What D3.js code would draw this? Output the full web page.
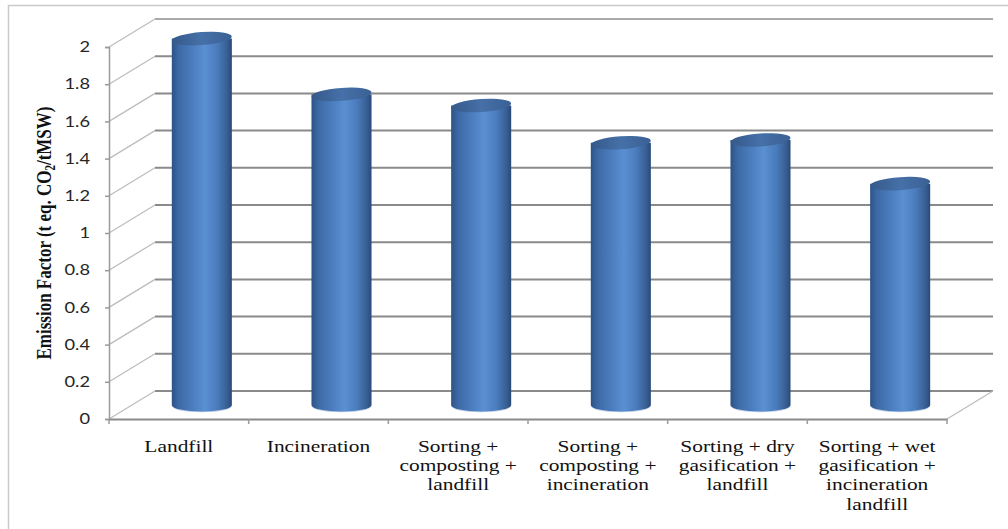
<!DOCTYPE html>
<html><head><meta charset="utf-8">
<script src="https://cdn.jsdelivr.net/npm/d3@7/dist/d3.min.js"></script>
<style>body{margin:0;background:#fff;overflow:hidden}</style>
</head><body>
<svg id="c" width="1008" height="529"></svg>
<script>
// ---- data ----
const categories = ["Landfill", "Incineration", "Sorting + composting + landfill",
  "Sorting + composting + incineration", "Sorting + dry gasification + landfill",
  "Sorting + wet gasification + incineration landfill"];
const categoryLines = [["Landfill"], ["Incineration"], ["Sorting +", "composting +", "landfill"],
  ["Sorting +", "composting +", "incineration"], ["Sorting + dry", "gasification +", "landfill"],
  ["Sorting + wet", "gasification +", "incineration", "landfill"]];
const values = [1.97, 1.67, 1.61, 1.41, 1.425, 1.19];
const yTicks = [0, 0.2, 0.4, 0.6, 0.8, 1, 1.2, 1.4, 1.6, 1.8, 2];
const yTickLabels = ["0", "0.2", "0.4", "0.6", "0.8", "1", "1.2", "1.4", "1.6", "1.8", "2"];
const yTitleMain = "Emission Factor (t eq. CO";
const yTitleSub = "2";
const yTitleEnd = "/tMSW)";

// ---- layout ----
const svg = d3.select("#c");
const X0 = 109, X1 = 947, DX = 46, DY = -28, SX = 1.26;
const x = d3.scaleBand().domain(categories).range([X0, X1]);
const y = d3.scaleLinear().domain([0, 2]).range([419, 47]);

// outer border
svg.append("rect").attr("x", 8.5).attr("y", 5.5).attr("width", 1100).attr("height", 600)
  .attr("fill", "none").attr("stroke", "#c9c9c9").attr("stroke-width", 1.5);

// back wall gridlines
const grid = svg.append("g");
grid.selectAll("line.bg").data(yTicks).join("line")
  .attr("x1", X0 + DX).attr("x2", X1 + DX)
  .attr("y1", d => y(d) + DY).attr("y2", d => y(d) + DY)
  .attr("stroke", (d, i) => i === yTicks.length - 1 ? "#a9a9a9" : "#8a8a8a").attr("stroke-width", 2);
// side wall diagonals
grid.selectAll("line.sd").data(yTicks).join("line")
  .attr("x1", X0).attr("x2", X0 + DX)
  .attr("y1", d => y(d)).attr("y2", d => y(d) + DY)
  .attr("stroke", "#bdbdbd").attr("stroke-width", 1.3);
// floor right diagonal
grid.append("line").attr("x1", X1).attr("y1", y(0)).attr("x2", X1 + DX).attr("y2", y(0) + DY)
  .attr("stroke", "#bdbdbd").attr("stroke-width", 1.3);

// y axis
const yAxis = svg.append("g").attr("transform", `translate(${X0},0)`)
  .call(d3.axisLeft(y).tickValues(yTicks).tickSize(4).tickFormat(""));
yAxis.select(".domain").attr("stroke", "#9a9a9a").attr("stroke-width", 1.5);
yAxis.selectAll(".tick line").attr("stroke", "#9a9a9a").attr("stroke-width", 1.5);

svg.append("g").selectAll("text").data(yTicks).join("text")
  .attr("transform", d => `translate(90,${y(d)}) scale(${SX},1)`)
  .attr("text-anchor", "end").attr("dy", "0.36em")
  .attr("font-family", "Lato, 'Liberation Sans', sans-serif").attr("font-size", 14.5)
  .attr("fill", "#262626")
  .text((d, i) => yTickLabels[i]);

// x axis
const xAxis = svg.append("g").attr("transform", `translate(0,${y(0)})`)
  .call(d3.axisBottom(x).tickSize(0).tickFormat(""));
xAxis.select(".domain").attr("stroke", "#8a8a8a").attr("stroke-width", 2);
const bounds = categories.map(c => x(c)).concat([X1]);
xAxis.selectAll("line.bt").data(bounds).join("line")
  .attr("x1", d => d).attr("x2", d => d).attr("y1", 0).attr("y2", 5)
  .attr("stroke", "#9a9a9a").attr("stroke-width", 1.5);

// bars (cylinders)
const defs = svg.append("defs");
const g1 = defs.append("linearGradient").attr("id", "cyl").attr("x1", "0").attr("x2", "1").attr("y1", "0").attr("y2", "0");
[[0, "#2c5386"], [0.12, "#3d6aa6"], [0.4, "#4f82c4"], [0.55, "#5a8fd2"], [0.75, "#4b7dbd"], [0.92, "#385f94"], [1, "#2a4a78"]]
  .forEach(([o, c]) => g1.append("stop").attr("offset", o).attr("stop-color", c));
const g2 = defs.append("linearGradient").attr("id", "topg").attr("x1", "0").attr("x2", "1").attr("y1", "0").attr("y2", "0");
[[0, "#35598a"], [0.5, "#4670a8"], [1, "#3a6195"]]
  .forEach(([o, c]) => g2.append("stop").attr("offset", o).attr("stop-color", c));

const bw = x.bandwidth() * 0.43, RX = bw / 2, RY = 6.5;
const bars = svg.append("g").selectAll("g").data(values).join("g")
  .attr("transform", (d, i) => `translate(${x(categories[i]) + x.bandwidth() / 2 + DX / 2},0)`);
// bottom highlight
bars.append("ellipse").attr("cx", 0).attr("cy", y(0) + DY / 2 + 0.8).attr("rx", RX).attr("ry", RY)
  .attr("fill", "#b9cbe3");
bars.append("path").attr("d", d => {
  const yt = y(d) + DY / 2, yb = y(0) + DY / 2;
  return `M${-RX},${yt} L${-RX},${yb} A${RX},${RY} 0 0 0 ${RX},${yb} L${RX},${yt} Z`;
}).attr("fill", "url(#cyl)");
bars.append("ellipse").attr("cx", 0).attr("cy", d => y(d) + DY / 2).attr("rx", RX).attr("ry", RY)
  .attr("transform", d => `rotate(-4,0,${y(d) + DY / 2})`)
  .attr("fill", "url(#topg)");

// x labels
const xl = svg.append("g").selectAll("text").data(categories).join("text")
  .attr("transform", c => `translate(${x(c) + x.bandwidth() / 2},452) scale(${SX},1)`)
  .attr("text-anchor", "middle")
  .attr("font-family", "'Liberation Serif', 'Times New Roman', serif").attr("font-size", 17)
  .attr("fill", "#111");
xl.selectAll("tspan").data((c, i) => categoryLines[i]).join("tspan")
  .attr("x", 0).attr("y", (d, j) => j * 19.2).text(d => d);

// y title
const yt = svg.append("text")
  .attr("transform", `translate(51,233) scale(${SX},1) rotate(-90)`)
  .attr("text-anchor", "middle")
  .attr("font-family", "'Liberation Serif', 'Times New Roman', serif").attr("font-size", 17)
  .attr("font-weight", "bold").attr("fill", "#111");
yt.append("tspan").text(yTitleMain);
yt.append("tspan").attr("font-size", 11).attr("dy", 3).text(yTitleSub);
yt.append("tspan").attr("dy", -3).text(yTitleEnd);
</script>
</body></html>
